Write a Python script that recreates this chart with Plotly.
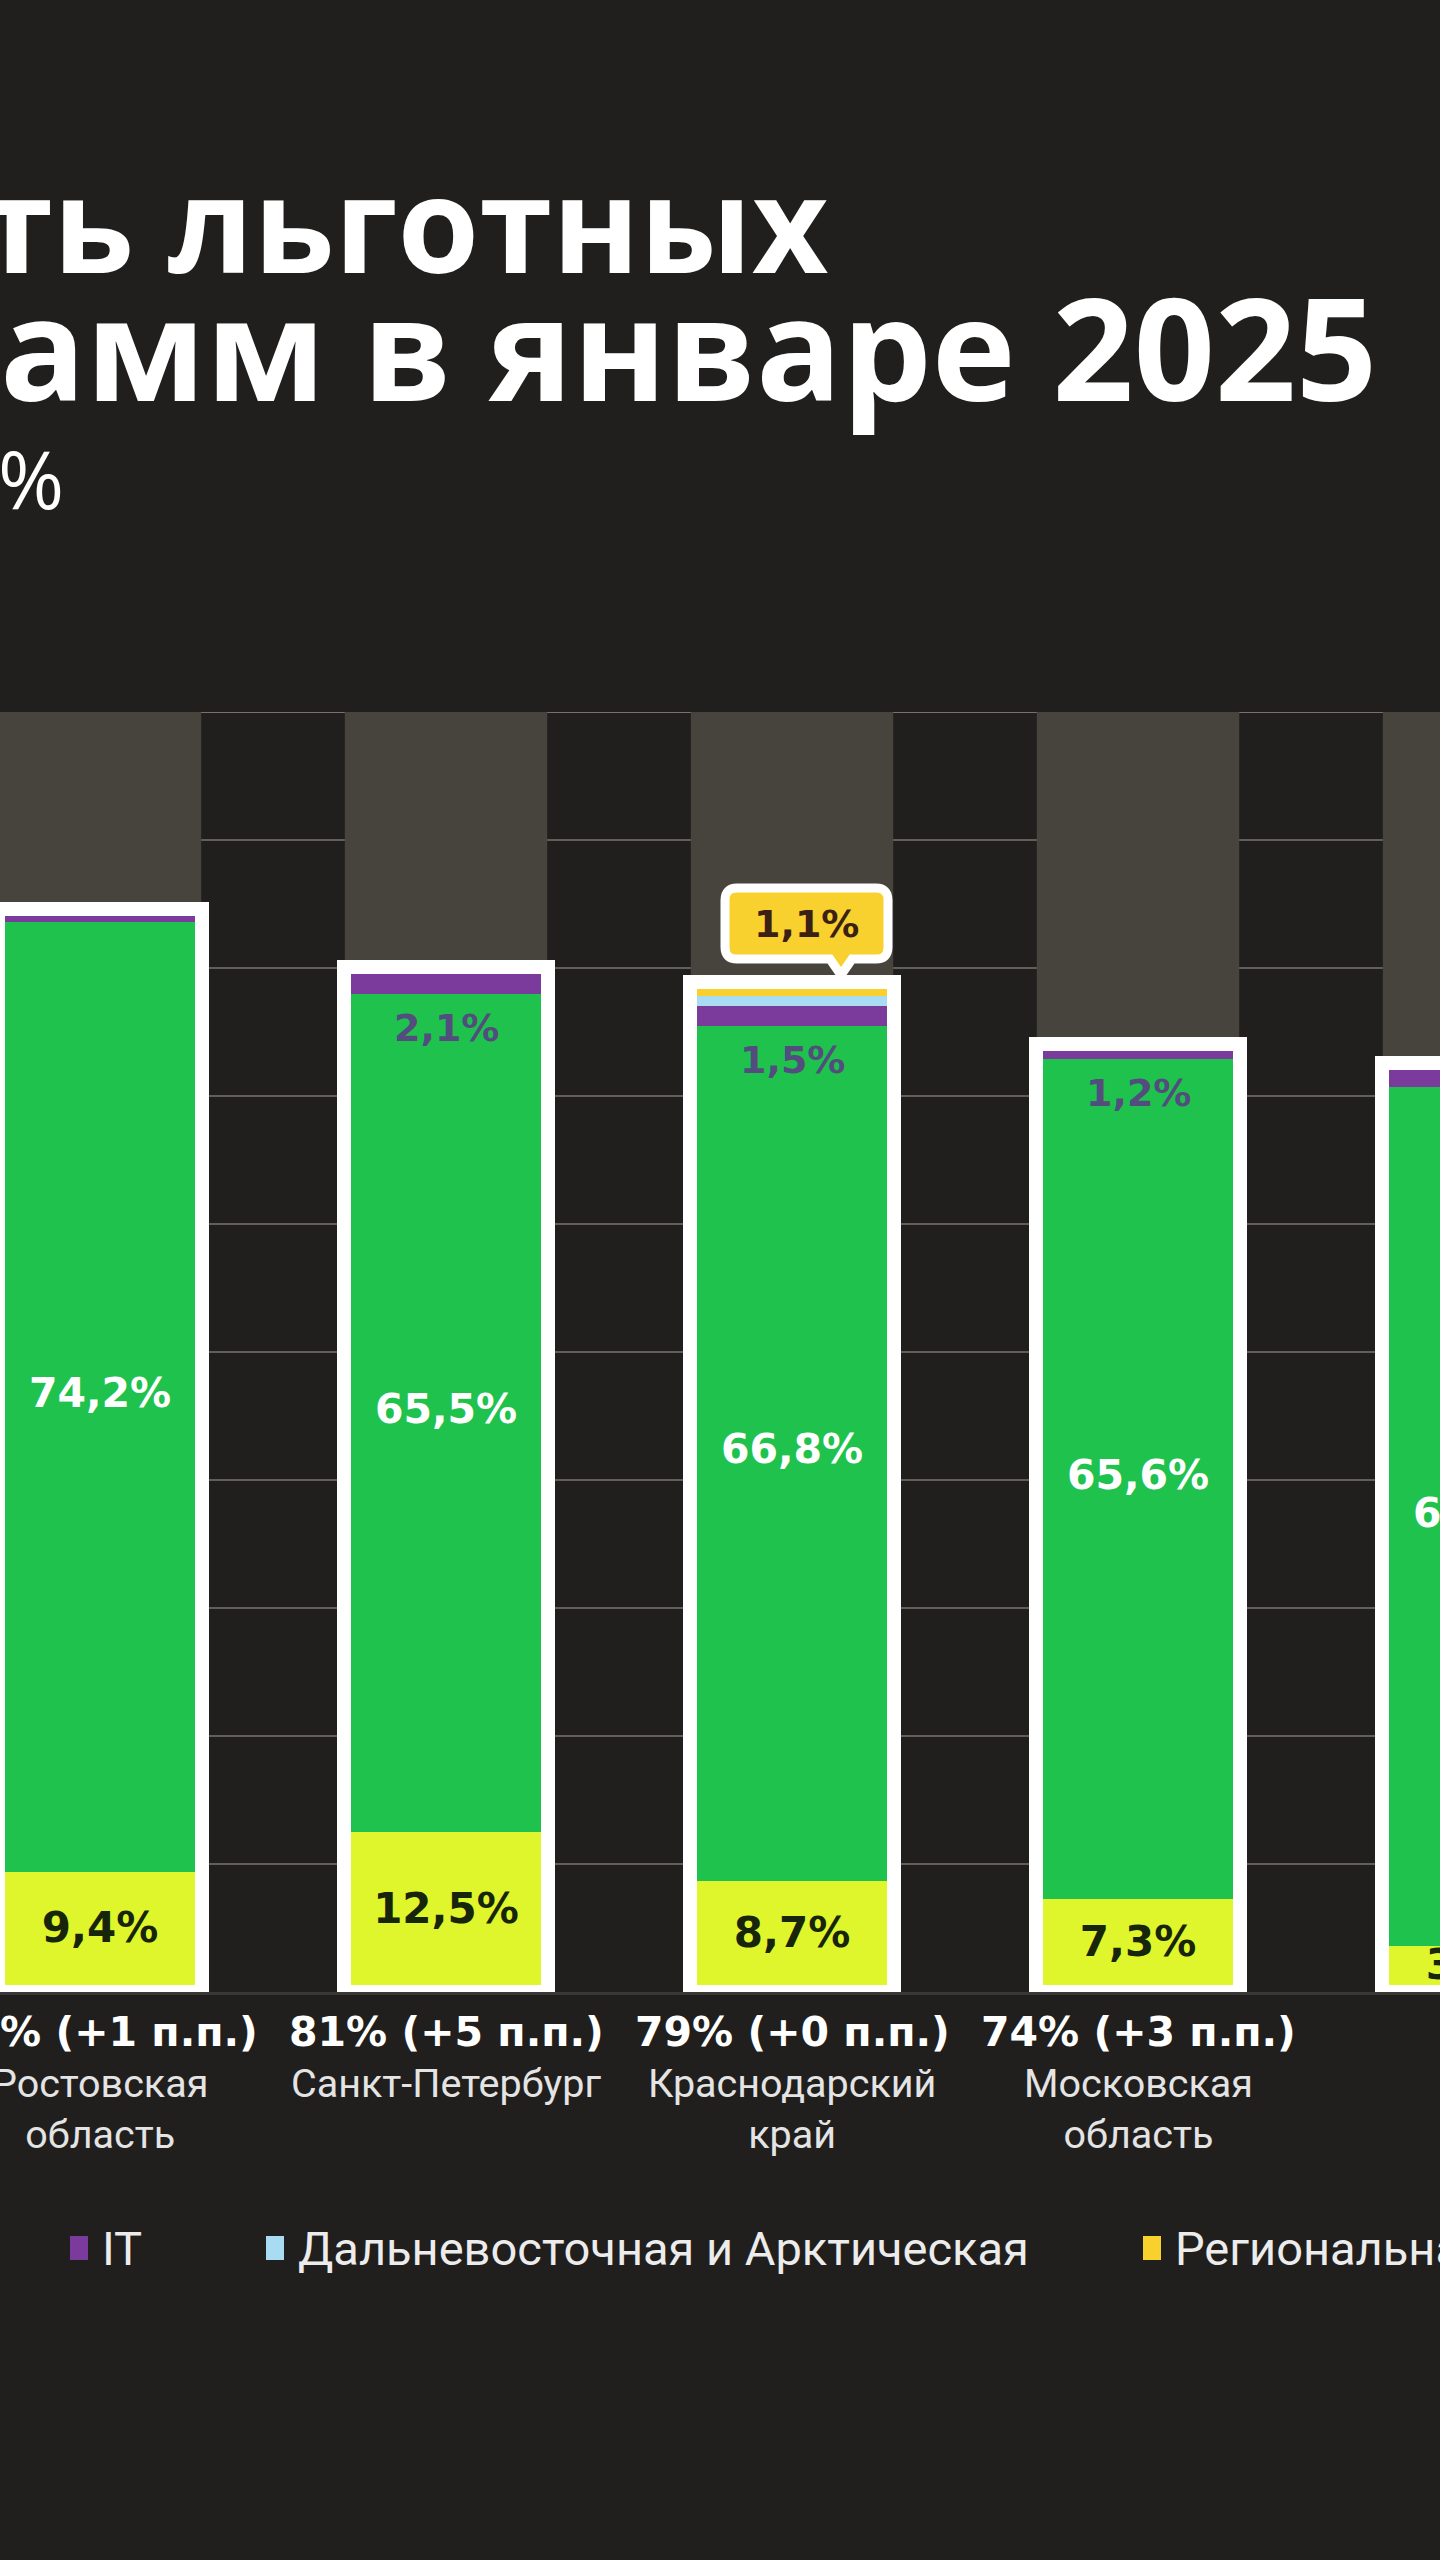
import plotly.graph_objects as go

# ---------------- data ----------------
regions = ["Ростовская область", "Санкт-Петербург", "Краснодарский край",
           "Московская область", "Москва"]
region_labels = ["Ростовская<br>область", "Санкт-Петербург", "Краснодарский<br>край",
                 "Московская<br>область", "Москва"]
share_total = [85, 81, 79, 74, 73]             # bold label under each bar, %
share_change = ["+1", "+5", "+0", "+3", "+1"]  # change, п.п.

other_program = [9.4, 12.5, 8.7, 7.3, 3.6]   # lime segment (bottom)
family = [74.2, 65.5, 66.8, 65.6, 67.1]      # green segment
it_program = [1.0, 2.1, 1.5, 1.2, 1.9]       # IT (purple)
far_east = [0.0, 0.0, 0.8, 0.0, 0.0]         # Дальневосточная и Арктическая
regional = [0.0, 0.0, 1.1, 0.0, 0.0]         # Региональная

legend_names = ["IT", "Дальневосточная и Арктическая", "Региональная"]

title_fragments = ["ть льготных", "амм в январе 2025", "%"]

# ---------------- styling ----------------
BG = "#201f1d"
BAND = "#47433d"
GRID = "#625e58"
C_LIME = "#dff52c"
C_GREEN = "#20c24e"
C_IT = "#7a3b9c"
C_FE = "#a9dcf2"
C_REG = "#f8d12e"

W, H = 1440, 2560
TOP, BOTTOM = 712, 1992           # plot area in pixels
PX_PER_CAT = 346.0
X0 = -100.0 / PX_PER_CAT
X1 = X0 + W / PX_PER_CAT
BAR_W = 0.589
BAND_W = 0.585


def fmt(v):
    return f"{v:.1f}".replace(".", ",") + "%"


def xp(px):
    return px / W


def yp(py):
    return (BOTTOM - py) / (BOTTOM - TOP)


n = len(regions)
xs = list(range(n))

segments = [
    ("Прочие программы", other_program, C_LIME),
    ("Семейная", family, C_GREEN),
    ("IT", it_program, C_IT),
    ("Дальневосточная и Арктическая", far_east, C_FE),
    ("Региональная", regional, C_REG),
]

fig = go.Figure()
base = [0.0] * n
for name, vals, color in segments:
    fig.add_trace(go.Bar(
        x=xs, y=vals, base=list(base), width=BAR_W, name=name,
        marker=dict(color=color, line=dict(width=0)),
        showlegend=False, hovertemplate=name + ": %{y}%<extra></extra>"))
    base = [b + v for b, v in zip(base, vals)]
totals = base

# white outline around each whole bar
fig.add_trace(go.Bar(
    x=xs, y=totals, base=[0] * n, width=BAR_W,
    marker=dict(color="rgba(0,0,0,0)", line=dict(color="white", width=14)),
    showlegend=False, hoverinfo="skip"))

num_font = "DejaVu Sans"

# lime labels
fig.add_trace(go.Scatter(
    x=xs, y=[v / 2 for v in other_program], mode="text",
    text=[f"<b>{fmt(v)}</b>" for v in other_program],
    textfont=dict(family=num_font, size=42, color="#17250a"),
    showlegend=False, hoverinfo="skip"))

# green labels
fig.add_trace(go.Scatter(
    x=xs, y=[a + b / 2 for a, b in zip(other_program, family)], mode="text",
    text=[f"<b>{fmt(v)}</b>" for v in family],
    textfont=dict(family=num_font, size=41, color="white"),
    showlegend=False, hoverinfo="skip"))

annotations = []

# IT labels (just under the purple band)
for i in xs:
    if it_program[i] > 1.0:
        annotations.append(dict(x=i, y=other_program[i] + family[i], xref="x", yref="y",
                                text=f"<b>{fmt(it_program[i])}</b>", showarrow=False,
                                yanchor="middle", yshift=-34,
                                font=dict(family=num_font, size=38, color="#524d7e")))

shapes = []
# grey column bands behind bars
for i in xs:
    shapes.append(dict(type="rect", xref="x", yref="y",
                       x0=i - BAND_W / 2, x1=i + BAND_W / 2, y0=0, y1=100,
                       fillcolor=BAND, line=dict(width=0), layer="between"))
# top line
shapes.append(dict(type="line", xref="paper", yref="y", x0=0, x1=1, y0=100, y1=100,
                   line=dict(color="#77736b", width=2), layer="between"))

# callout for regional share
xl, xr, yb, yt, r = -67, 96, 23, 94, 12
tx1, tx2, tip = 38, 60, (49, 7)
callout_path = (f"M {xl + r},{yt} L {xr - r},{yt} Q {xr},{yt} {xr},{yt - r} "
                f"L {xr},{yb + r} Q {xr},{yb} {xr - r},{yb} L {tx2},{yb} "
                f"L {tip[0]},{tip[1]} L {tx1},{yb} L {xl + r},{yb} "
                f"Q {xl},{yb} {xl},{yb + r} L {xl},{yt - r} Q {xl},{yt} {xl + r},{yt} Z")
for i in xs:
    if regional[i] > 0:
        shapes.append(dict(type="path", xref="x", yref="y",
                           xsizemode="pixel", ysizemode="pixel",
                           xanchor=i, yanchor=totals[i], path=callout_path,
                           fillcolor=C_REG, line=dict(color="white", width=9),
                           layer="above"))
        annotations.append(dict(x=i, y=totals[i], xref="x", yref="y",
                                text=f"<b>{fmt(regional[i])}</b>", showarrow=False,
                                xshift=(xl + xr) / 2, yshift=(yb + yt) / 2,
                                font=dict(family=num_font, size=38, color="#3b2014")))

# category labels under the axis
for i in xs:
    annotations.append(dict(x=i, y=yp(2032), xref="x", yref="paper",
                            text=f"<b>{share_total[i]}% ({share_change[i]} п.п.)</b>",
                            showarrow=False, yanchor="middle",
                            font=dict(family=num_font, size=41, color="white")))
    annotations.append(dict(x=i, y=yp(2058), xref="x", yref="paper",
                            text=region_labels[i], showarrow=False, yanchor="top",
                            font=dict(family="Roboto", size=39.5, color="#e4e4e4")))

# title fragments (the picture is cropped at its left edge)
annotations.append(dict(x=0, y=yp(222), xref="paper", yref="paper", xanchor="left",
                        yanchor="middle", xshift=-22, text=f"<b>{title_fragments[0]}</b>",
                        showarrow=False, font=dict(family="Open Sans", size=132, color="white")))
annotations.append(dict(x=0, y=yp(346), xref="paper", yref="paper", xanchor="left",
                        yanchor="middle", xshift=-2, text=f"<b>{title_fragments[1]}</b>",
                        showarrow=False, font=dict(family="Open Sans", size=142, color="white")))
annotations.append(dict(x=0, y=yp(478), xref="paper", yref="paper", xanchor="left",
                        yanchor="middle", xshift=-4, text=title_fragments[2],
                        showarrow=False, font=dict(family="Open Sans", size=80, color="white")))

# legend (manual, the picture is cropped at its right edge)
legend_colors = [C_IT, C_FE, C_REG]
legend_left = [70, 266, 1143]
LEG_Y = 2248
for name, color, lx in zip(legend_names, legend_colors, legend_left):
    shapes.append(dict(type="rect", xref="paper", yref="paper",
                       x0=xp(lx), x1=xp(lx + 18), y0=yp(LEG_Y + 12), y1=yp(LEG_Y - 12),
                       fillcolor=color, line=dict(width=0)))
    annotations.append(dict(x=xp(lx + 30), y=yp(LEG_Y), xref="paper", yref="paper",
                            xanchor="left", yanchor="middle", text=name, showarrow=False,
                            font=dict(family="Roboto", size=47, color="#ececec")))

fig.update_layout(
    width=W, height=H,
    margin=dict(l=0, r=0, t=TOP, b=H - BOTTOM, pad=0),
    paper_bgcolor=BG, plot_bgcolor=BG,
    barmode="overlay", bargap=0,
    shapes=shapes, annotations=annotations,
    showlegend=False,
    xaxis=dict(range=[X0, X1], showticklabels=False, showgrid=False, zeroline=False,
               showline=True, linecolor="#3a3834", linewidth=3, ticks=""),
    yaxis=dict(range=[0, 100], dtick=10, showticklabels=False, gridcolor=GRID,
               gridwidth=2, zeroline=False, showline=False, ticks=""),
)

fig.write_html(
    "out.html",
    config={"displayModeBar": False},
    post_script=("document.body.style.margin='0';"
                 "document.body.style.background='" + BG + "';"
                 "document.body.style.overflow='hidden';"),
)
